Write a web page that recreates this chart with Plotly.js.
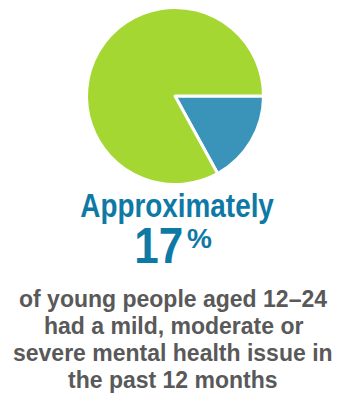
<!DOCTYPE html>
<html>
<head>
<meta charset="utf-8">
<script src="https://cdn.plot.ly/plotly-3.0.1.min.js"></script>
<style>html,body{margin:0;padding:0;background:#fff;}#chart{width:337px;height:408px;}</style>
</head>
<body>
<div id="chart"></div>
<script>
const categories = ["Had a mental health issue", "Did not"];
const shares = [17, 83];
const sliceColors = ["#3a94ba", "#a5d733"];
const headline = "Approximately";
const statText = "17";
const statUnit = "%";
const captionLines = [
  "of young people aged 12–24",
  "had a mild, moderate or",
  "severe mental health issue in",
  "the past 12 months"
];

const W = 337, H = 408;
const py = v => 1 - v / H;
const R = 88.5, CX = 175, CY = 96;

const trace = {
  type: "pie",
  labels: categories,
  values: shares,
  marker: { colors: sliceColors, line: { color: "#ffffff", width: 3 } },
  sort: false,
  direction: "clockwise",
  rotation: 90,
  textinfo: "none",
  hoverinfo: "label+percent",
  domain: { x: [(CX - R) / W, (CX + R) / W], y: [py(CY + R), py(CY - R)] }
};

const sans = "'Liberation Sans', Arial, sans-serif";
const annotations = [
  { text: "<b>" + headline + "</b>", x: 177 / W, y: py(205), xref: "paper", yref: "paper",
    xanchor: "center", yanchor: "middle", showarrow: false,
    font: { family: sans, size: 34, color: "#0f79a5" } },
  { text: "<b>" + statText + "</b>", x: 158.5 / W, y: py(246), xref: "paper", yref: "paper",
    xanchor: "center", yanchor: "middle", showarrow: false,
    font: { family: sans, size: 50, color: "#0f79a5" } },
  { text: "<b>" + statUnit + "</b>", x: 199 / W, y: py(238), xref: "paper", yref: "paper",
    xanchor: "center", yanchor: "middle", showarrow: false,
    font: { family: sans, size: 28, color: "#0f79a5" } }
];
const lineYs = [299, 326, 353, 380];
captionLines.forEach((t, i) => {
  annotations.push({ text: "<b>" + t + "</b>", x: 173 / W, y: py(lineYs[i]), xref: "paper", yref: "paper",
    xanchor: "center", yanchor: "middle", showarrow: false,
    font: { family: sans, size: 23, color: "#595959" } });
});

const layout = {
  width: W, height: H,
  margin: { l: 0, r: 0, t: 0, b: 0 },
  paper_bgcolor: "#ffffff",
  showlegend: false,
  annotations: annotations
};
// horizontal condensing to mimic the narrow headline typeface
const condense = { 0: 0.82, 1: 0.88 };
Plotly.newPlot("chart", [trace], layout, { displayModeBar: false, staticPlot: true }).then(gd => {
  gd.querySelectorAll(".annotation").forEach(g => {
    const idx = g.getAttribute("data-index");
    if (condense[idx] === undefined) return;
    const t = g.querySelector("text");
    if (!t) return;
    const bb = t.getBBox();
    const cx = bb.x + bb.width / 2;
    t.setAttribute("transform", `translate(${cx},0) scale(${condense[idx]},1) translate(${-cx},0)`);
  });
});
</script>
</body>
</html>
